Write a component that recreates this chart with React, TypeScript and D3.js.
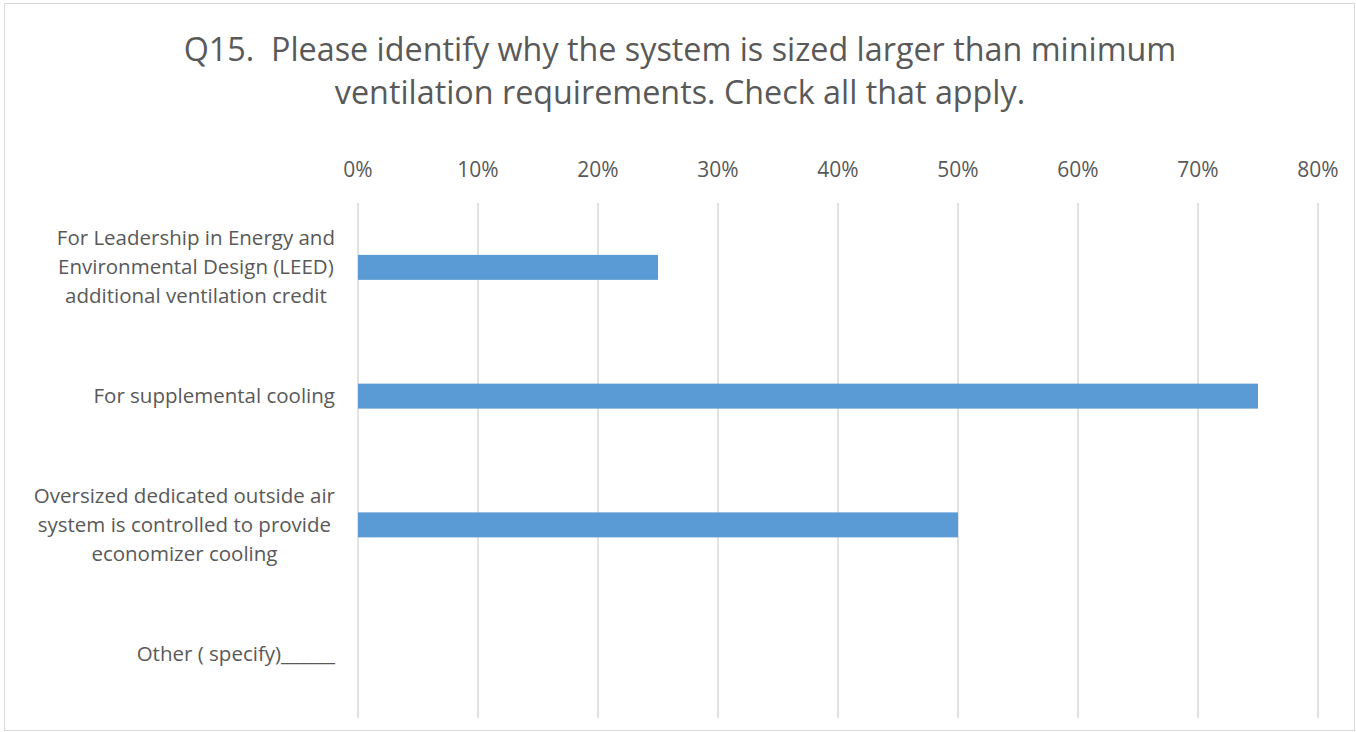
import React, { useEffect, useRef } from "react";
import * as d3 from "d3";

const titleLines = [
  "Q15.  Please identify why the system is sized larger than minimum",
  "ventilation requirements. Check all that apply.",
];
const categories = [
  ["For Leadership in Energy and", "Environmental Design (LEED)", "additional ventilation credit"],
  ["For supplemental cooling"],
  ["Oversized dedicated outside air", "system is controlled to provide", "economizer cooling"],
  ["Other ( specify)______"],
];
const values = [0.25, 0.75, 0.5, 0];
const ticks = [0, 0.1, 0.2, 0.3, 0.4, 0.5, 0.6, 0.7, 0.8];

const W = 1356;
const H = 732;
const FONT = "'Open Sans', sans-serif";
const LBL = 20.5;
const TICK = 21;

export default function App() {
  const ref = useRef<SVGSVGElement>(null);
  useEffect(() => {
    const svg = d3.select(ref.current);
    svg.selectAll("*").remove();

    svg.append("rect").attr("x", 4.5).attr("y", 3.5).attr("width", W - 6).attr("height", H - 5)
      .attr("fill", "#fff").attr("stroke", "#D9D9D9");

    svg.append("g").selectAll("text").data(titleLines).join("text")
      .attr("x", 680).attr("y", (_, i) => 61 + i * 43)
      .attr("text-anchor", "middle").attr("font-family", FONT).attr("font-size", 32.3)
      .style("white-space", "pre")
      .attr("fill", "#595959").text((d) => d);

    const x = d3.scaleLinear().domain([0, 0.8]).range([358, 1318]);
    const y = d3.scaleBand<number>().domain(d3.range(categories.length)).range([203, 718]).paddingInner(0.806).paddingOuter(0.403);

    svg.append("g").selectAll("line").data(ticks).join("line")
      .attr("x1", (d) => x(d)).attr("x2", (d) => x(d)).attr("y1", 203).attr("y2", 718)
      .attr("stroke", "#D9D9D9").attr("stroke-width", 1.5);

    svg.append("g").selectAll("text").data(ticks).join("text")
      .attr("x", (d) => x(d)).attr("y", 177).attr("text-anchor", "middle")
      .attr("font-family", FONT).attr("font-size", TICK).attr("fill", "#595959")
      .text((d) => d3.format(".0%")(d));

    svg.append("g").selectAll("rect").data(values).join("rect")
      .attr("x", x(0)).attr("y", (_, i) => y(i)!)
      .attr("width", (d) => x(d) - x(0)).attr("height", y.bandwidth())
      .attr("fill", "#5B9BD5");

    const canvas = document.createElement("canvas");
    const ctx = canvas.getContext("2d")!;
    ctx.font = `${LBL}px 'Open Sans'`;
    const rightEdge = 335;
    const lh = 29;
    categories.forEach((lines, i) => {
      const blockW = Math.max(...lines.map((l) => ctx.measureText(l).width));
      const cx = rightEdge - blockW / 2;
      const cy = y(i)! + y.bandwidth() / 2;
      const start = cy - ((lines.length - 1) * lh) / 2;
      svg.append("g").selectAll("text").data(lines).join("text")
        .attr("x", cx).attr("y", (_, j) => start + j * lh + 7)
        .attr("text-anchor", "middle").attr("font-family", FONT).attr("font-size", LBL)
        .attr("fill", "#595959").text((d) => d);
    });
  }, []);
  return (
    <svg ref={ref} width={W} height={H}
      style={{ display: "block", position: "absolute", left: 0, top: 0 }} />
  );
}
